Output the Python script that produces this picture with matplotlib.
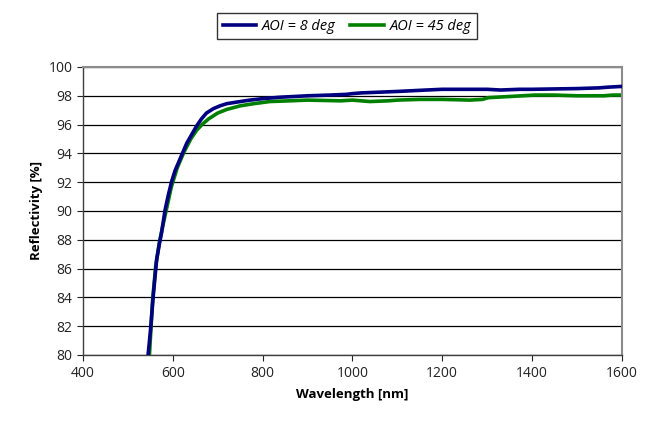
import matplotlib
matplotlib.use('Agg')
import matplotlib.pyplot as plt

# Reflectivity curves for two angles of incidence
wl_8 = [545, 550, 557, 564, 570, 575, 583, 590, 597, 605, 616, 631, 642, 653, 664,
        675, 690, 705, 720, 740, 772, 800, 839, 870, 900, 950, 987, 1000, 1020, 1060,
        1100, 1165, 1200, 1260, 1300, 1330, 1373, 1400, 1500, 1550, 1570, 1600]
refl_8 = [80.0, 81.6, 84.3, 86.6, 87.7, 88.5, 90.1, 91.1, 92.0, 92.8, 93.6, 94.7, 95.3,
          95.9, 96.4, 96.8, 97.1, 97.3, 97.45, 97.55, 97.7, 97.8, 97.9, 97.95, 98.0,
          98.05, 98.1, 98.15, 98.2, 98.25, 98.3, 98.4, 98.45, 98.45, 98.45, 98.4,
          98.45, 98.45, 98.5, 98.55, 98.6, 98.65]

wl_45 = [548, 555, 562, 570, 578, 585, 597, 610, 625, 640, 653, 665, 680, 700, 720,
         750, 780, 816, 860, 900, 974, 1000, 1039, 1080, 1100, 1150, 1200, 1262, 1290,
         1303, 1350, 1407, 1450, 1500, 1560, 1580, 1600]
refl_45 = [80.0, 83.8, 86.2, 87.8, 89.0, 90.0, 91.7, 93.0, 94.1, 95.0, 95.6, 96.0,
           96.4, 96.8, 97.05, 97.3, 97.45, 97.6, 97.65, 97.7, 97.65, 97.7, 97.6, 97.65,
           97.7, 97.75, 97.75, 97.7, 97.75, 97.87, 97.95, 98.05, 98.05, 98.0, 98.0,
           98.05, 98.05]

x_ticks = [400, 600, 800, 1000, 1200, 1400, 1600]
y_ticks = list(range(80, 101, 2))

plt.rcParams['font.family'] = ['Open Sans', 'DejaVu Sans']

fig = plt.figure(figsize=(6.51, 4.28), dpi=100)
ax = fig.add_axes([0.1275, 0.1706, 0.8275, 0.6729])

ax.plot(wl_8, refl_8, color='#000080', lw=2.6, label='AOI = 8 deg', zorder=3)
ax.plot(wl_45, refl_45, color='#008000', lw=2.6, label='AOI = 45 deg', zorder=2)

ax.set_xlim(400, 1600)
ax.set_ylim(80, 100)
ax.set_xticks(x_ticks)
ax.set_yticks(y_ticks)
ax.grid(axis='y', color='black', lw=0.9)
ax.set_axisbelow(True)

for side in ['left', 'bottom']:
    ax.spines[side].set_color('#404040')
    ax.spines[side].set_linewidth(1.0)
for side in ['top', 'right']:
    ax.spines[side].set_color('#8c8c8c')
    ax.spines[side].set_linewidth(1.5)

ax.tick_params(axis='both', direction='out', length=4, width=0.8, labelsize=10, colors='#222222')
ax.tick_params(axis='x', pad=4)

ax.set_xlabel('Wavelength [nm]', fontsize=9.5, fontweight='bold', labelpad=5)
ax.set_ylabel('Reflectivity [%]', fontsize=9.5, fontweight='bold', labelpad=4)

leg = fig.legend(loc='center', bbox_to_anchor=(0.533, 0.939), ncol=2, frameon=True,
                 fancybox=False, edgecolor='black', fontsize=10.5, handlelength=2.3,
                 columnspacing=1.0, handletextpad=0.4, borderpad=0.4)
leg.get_frame().set_linewidth(1.0)
for t in leg.get_texts():
    t.set_fontstyle('italic')

fig.savefig('out.png', dpi=100)
